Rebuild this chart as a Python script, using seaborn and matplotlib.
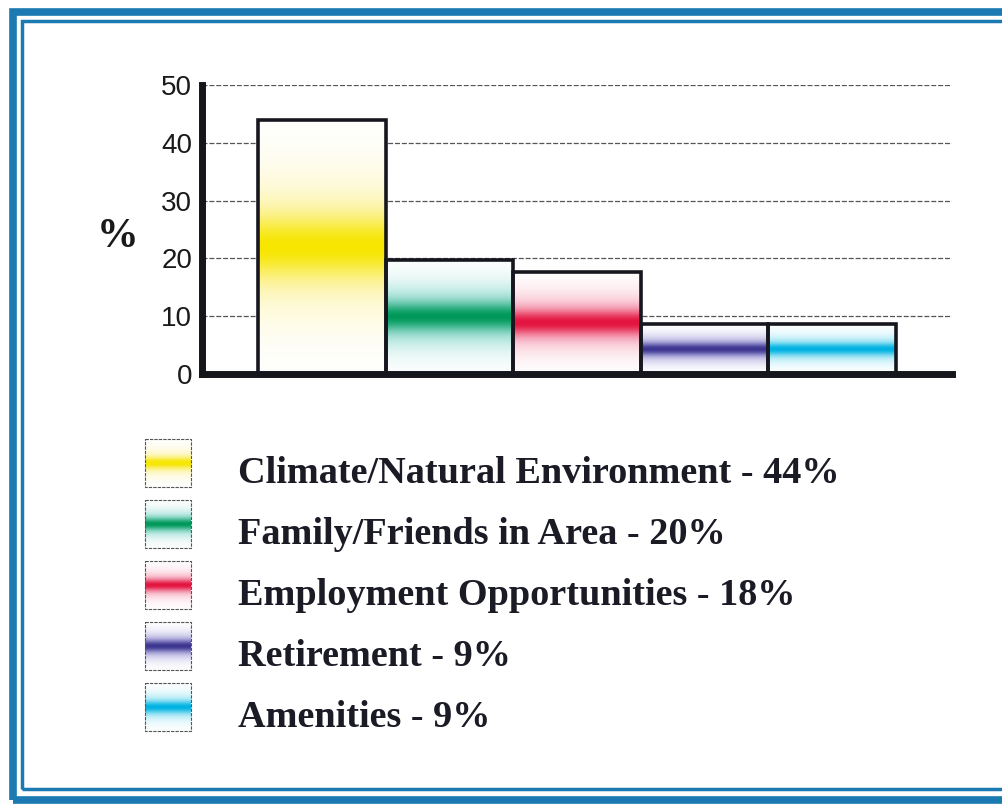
import numpy as np
import pandas as pd
import seaborn as sns
import matplotlib.pyplot as plt
from matplotlib.patches import Rectangle

# data
categories = ["Climate/Natural Environment", "Family/Friends in Area",
              "Employment Opportunities", "Retirement", "Amenities"]
values = [44, 19.8, 17.7, 8.6, 8.6]
legend_pct = [44, 20, 18, 9, 9]
core_colors = ["#f7e600", "#00995a", "#e3143f", "#3b3590", "#00b2e2"]
halo_colors = ["#fdf3a6", "#86d8cc", "#f6a3b9", "#a7a3dc", "#93e3f4"]
yticks = [0, 10, 20, 30, 40, 50]

W, H = 1002, 806
sns.set_style("white")
plt.rcParams['font.family'] = ['Liberation Sans', 'DejaVu Sans']

fig = plt.figure(figsize=(W / 100, H / 100), dpi=100)


def px(x0, y0, x1, y1):
    return [x0 / W, 1 - y1 / H, (x1 - x0) / W, (y1 - y0) / H]


def hex_rgb(h):
    h = h.lstrip('#')
    return np.array([int(h[i:i + 2], 16) / 255 for i in (0, 2, 4)])


def gradient(core, halo, n=200):
    # white -> halo -> core -> halo -> white, vertically
    t = np.linspace(0, 1, n)[:, None]
    a_halo = np.exp(-((t - 0.5) / 0.26) ** 2)
    a_core = np.exp(-((t - 0.5) / 0.11) ** 2)
    c = np.ones((n, 1, 3))
    c = c * (1 - a_halo[..., None]) + hex_rgb(halo) * a_halo[..., None]
    c = c * (1 - a_core[..., None]) + hex_rgb(core) * a_core[..., None]
    return np.repeat(c, 4, axis=1)


ax = fig.add_axes(px(202, 85, 952, 374))
df = pd.DataFrame({"reason": categories, "pct": values})
sns.barplot(data=df, x="reason", y="pct", ax=ax, color="white",
            saturation=1, width=1.0, edgecolor="#16161e", linewidth=2.6, zorder=3)

for p, core, halo in zip(ax.patches, core_colors, halo_colors):
    x, w, h = p.get_x(), p.get_width(), p.get_height()
    ax.imshow(gradient(core, halo), extent=[x, x + w, 0, h], aspect='auto',
              origin='lower', zorder=2.5, interpolation='bilinear')
    p.set_facecolor('none')

ax.set_xlim(-0.94, 4.94)
ax.set_ylim(0, 50)
ax.set_yticks(yticks)
ax.set_yticklabels([str(v) for v in yticks], fontsize=20, color="#1a1a1a")
ax.set_xticks([])
ax.set_xlabel("")
ax.set_ylabel("")
ax.tick_params(axis='y', length=0, pad=7)
ax.yaxis.grid(True, color="#555555", linestyle=(0, (4, 1.5)), linewidth=0.9)
ax.set_axisbelow(True)
for s in ["top", "right"]:
    ax.spines[s].set_visible(False)
ax.spines["left"].set_linewidth(5)
ax.spines["bottom"].set_linewidth(5)
ax.spines["left"].set_color("#15151c")
ax.spines["bottom"].set_color("#15151c")

fig.text(118 / W, 1 - 237 / H, "%", fontsize=30, fontweight='bold',
         family=['Liberation Serif', 'DejaVu Serif'], ha='center', va='center', color="#1a1a1a")

# legend with gradient swatches
lax = fig.add_axes([0, 0, 1, 1], zorder=-1)
lax.set_xlim(0, W)
lax.set_ylim(H, 0)
lax.axis('off')
for i, (name, pct, core, halo) in enumerate(zip(categories, legend_pct, core_colors, halo_colors)):
    cy = 463 + i * 61
    lax.imshow(gradient(core, halo), extent=[145, 191, cy + 24, cy - 24],
               aspect='auto', origin='lower', interpolation='bilinear')
    lax.add_patch(Rectangle((145, cy - 24), 46, 48, fill=False,
                            edgecolor="#555555", linewidth=0.8, linestyle=(0, (3, 1))))
    lax.text(238, cy + 20, f"{name} - {pct}%", fontsize=27.5, fontweight='bold',
             family=['Liberation Serif', 'DejaVu Serif'], color="#1b1b26", va='baseline', ha='left')

# blue double frame
frame = "#1c7ab2"
fig.patches.append(Rectangle((13 / W, 1 - 800 / H), 1.2, (800 - 12) / H, transform=fig.transFigure,
                             fill=False, edgecolor=frame, linewidth=5.5))
fig.patches.append(Rectangle((22 / W, 1 - 789 / H), 1.2, (789 - 21) / H, transform=fig.transFigure,
                             fill=False, edgecolor=frame, linewidth=2.5))

fig.savefig("out.png", dpi=100)
